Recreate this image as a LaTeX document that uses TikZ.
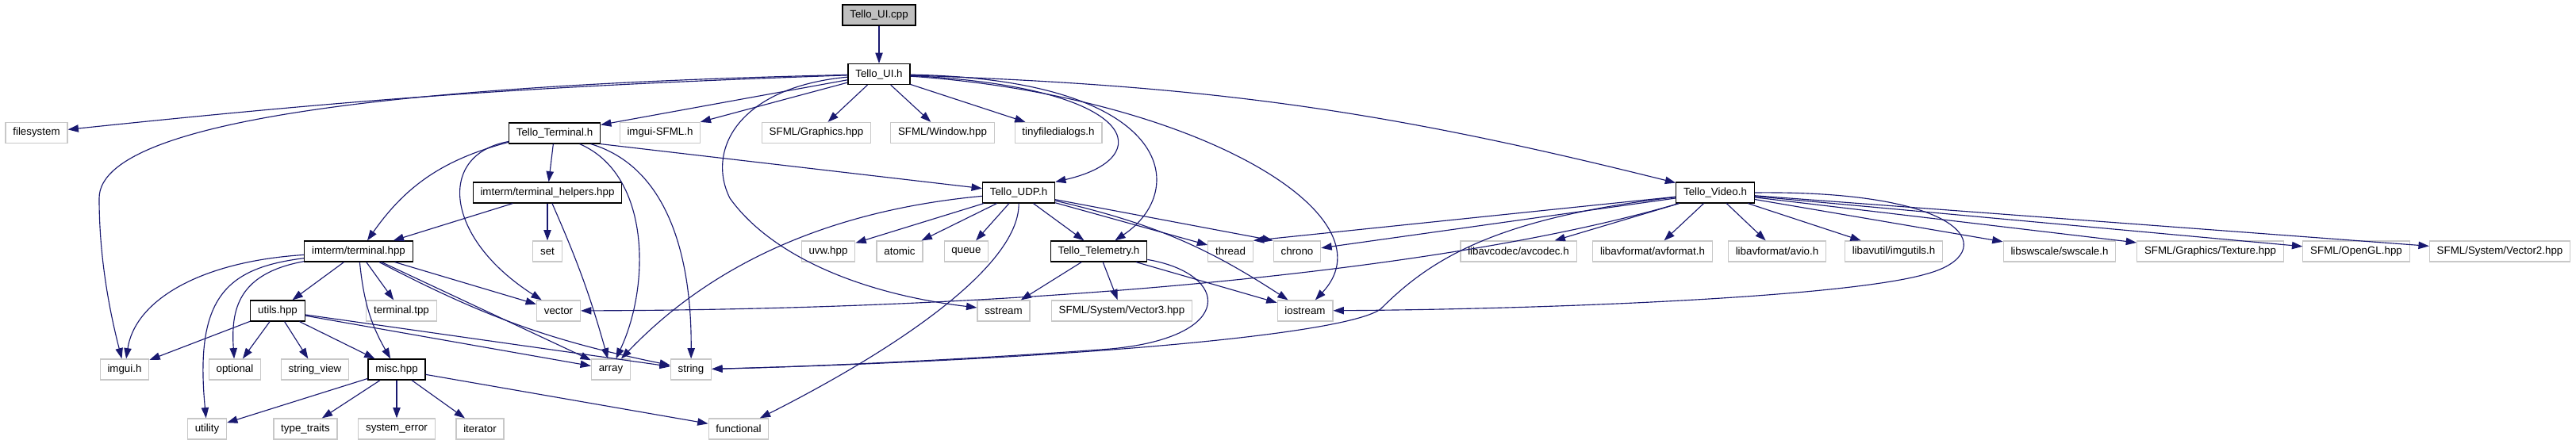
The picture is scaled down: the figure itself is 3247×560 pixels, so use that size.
\documentclass[tikz,border=0pt]{standalone}
\usepackage{fontspec}
\setmainfont{Liberation Sans}
\usepackage{tikz}
\usetikzlibrary{arrows.meta}
\definecolor{Midnight}{RGB}{25, 25, 112}
\definecolor{GreyFill}{RGB}{191, 191, 191}
\definecolor{GreyLine}{RGB}{200, 200, 200}

\begin{document}
\begin{tikzpicture}[
    x=0.75pt, y=-0.75pt,
    box/.style={rectangle, font=\fontsize{10}{12}\selectfont, inner xsep=7pt, inner ysep=2pt, minimum height=19.5pt},
    doc/.style={box, draw=black, line width=0.9pt, fill=white},
    ext/.style={box, draw=GreyLine, line width=0.9pt, fill=white},
    root/.style={box, draw=black, line width=0.9pt, fill=GreyFill},
    link/.style={draw=Midnight, line width=0.85pt, -{Triangle[length=10pt, width=7pt]}},
    every edge/.style={link}
]

\path[fill=white] (0,0) rectangle (3247,560);
\useasboundingbox (0,0) rectangle (3247,560);

% Files
\node[root] (cpp) at (1108,19) {Tello\_UI.cpp};
\node[doc] (uih) at (1108,93.5) {Tello\_UI.h};

\node[ext] (fs) at (46,167.5) {filesystem};
\node[doc] (term) at (699,168) {Tello\_Terminal.h};
\node[ext] (imsfml) at (832,167.5) {imgui-SFML.h};
\node[ext] (sfgfx) at (1029,167.5) {SFML/Graphics.hpp};
\node[ext] (sfwin) at (1188,167.5) {SFML/Window.hpp};
\node[ext] (tfd) at (1334,167.5) {tinyfiledialogs.h};

\node[doc] (helpers) at (690,243) {imterm/terminal\_helpers.hpp};
\node[doc] (udp) at (1284,243) {Tello\_UDP.h};
\node[doc] (video) at (2162,243) {Tello\_Video.h};

\node[doc] (tthpp) at (452,317) {imterm/terminal.hpp};
\node[ext] (set) at (690,317) {set};
\node[ext] (uvw) at (1044,317) {uvw.hpp};
\node[ext] (atomic) at (1134,317) {atomic};
\node[ext] (queue) at (1218,317) {queue};
\node[doc] (tele) at (1385,317) {Tello\_Telemetry.h};
\node[ext] (thread) at (1551,317) {thread};
\node[ext] (chrono) at (1635,317) {chrono};
\node[ext] (avcodec) at (1914,317) {libavcodec/avcodec.h};
\node[ext] (avformat) at (2083,317) {libavformat/avformat.h};
\node[ext] (avio) at (2240,317) {libavformat/avio.h};
\node[ext] (imgutils) at (2387,317) {libavutil/imgutils.h};
\node[ext] (swscale) at (2596,317) {libswscale/swscale.h};
\node[ext] (texture) at (2786,317) {SFML/Graphics/Texture.hpp};
\node[ext] (opengl) at (2970,317) {SFML/OpenGL.hpp};
\node[ext] (vecii) at (3151,317) {SFML/System/Vector2.hpp};

\node[doc] (utils) at (350,392) {utils.hpp};
\node[ext] (ttpp) at (506,392) {terminal.tpp};
\node[ext] (vector) at (704,392) {vector};
\node[ext] (sstream) at (1265,392) {sstream};
\node[ext] (veciii) at (1414,392) {SFML/System/Vector3.hpp};
\node[ext] (iostream) at (1645,392) {iostream};

\node[ext] (imguih) at (157,466) {imgui.h};
\node[ext] (optional) at (296,466) {optional};
\node[ext] (strview) at (397,466) {string\_view};
\node[doc] (misc) at (500,466) {misc.hpp};
\node[ext] (array) at (770,466) {array};
\node[ext] (string) at (871,466) {string};

\node[ext] (utility) at (261,541) {utility};
\node[ext] (traits) at (385,541) {type\_traits};
\node[ext] (syserr) at (500,541) {system\_error};
\node[ext] (iterator) at (605,541) {iterator};
\node[ext] (functional) at (931,541) {functional};

% From Tello_UI.cpp
\draw (cpp) edge (uih);

% From Tello_UI.h
\draw (uih) edge[bend right=2] (fs);
\draw[link] (uih) .. controls (600,105) and (125,140) .. (125,250) .. controls (125,330) and (140,400) .. (imguih);
\draw (uih) edge (term);
\draw (uih) edge (imsfml);
\draw (uih) edge (sfgfx);
\draw (uih) edge (sfwin);
\draw (uih) edge (tfd);
\draw[link] (uih) .. controls (1440,110) and (1460,200) .. (udp.north east);
\draw[link] (uih) .. controls (1480,100) and (1500,240) .. (tele);
\draw[link] (uih) .. controls (930,110) and (890,190) .. (920,250) .. controls (970,320) and (1080,370) .. (sstream);
\draw[link] (uih) .. controls (1500,120) and (1760,270) .. (iostream);
\draw (uih) edge[bend left=6] (video);

% From Tello_Terminal.h
\draw (term) edge[bend right=20] (tthpp);
\draw (term) edge (helpers);
\draw[link] (term) .. controls (550,195) and (560,300) .. (vector);
\draw[link] (term) .. controls (820,220) and (820,360) .. (array);
\draw[link] (term) .. controls (840,210) and (872,320) .. (string);
\draw (term.south east) edge (udp);

% From imterm/terminal_helpers.hpp
\draw (helpers) edge (tthpp);
\draw (helpers) edge (set);
\draw (helpers) edge[bend left=4] (array);

% From imterm/terminal.hpp
\draw[link] (tthpp) .. controls (250,330) and (170,380) .. (imguih);
\draw (tthpp) edge (utils);
\draw (tthpp) edge (ttpp);
\draw (tthpp) edge (vector);
\draw (tthpp) edge[bend right=8] (string);
\draw (tthpp) edge (array);
\draw (tthpp) edge[bend right=12] (misc);
\draw[link] (tthpp) .. controls (300,345) and (291,390) .. (optional);
\draw[link] (tthpp) .. controls (285,338) and (245,375) .. (utility);

% From utils.hpp
\draw (utils) edge (imguih);
\draw (utils) edge (optional);
\draw (utils) edge (strview);
\draw (utils) edge (misc);
\draw (utils) edge (array);
\draw (utils) edge (string);

% From misc.hpp
\draw (misc) edge (utility);
\draw (misc) edge (traits);
\draw (misc) edge (syserr);
\draw (misc) edge (iterator);
\draw (misc) edge (functional);

% From Tello_UDP.h
\draw (udp) edge (uvw);
\draw (udp) edge (atomic);
\draw (udp) edge (queue);
\draw (udp) edge (tele);
\draw (udp) edge (thread);
\draw (udp) edge (chrono.north west);
\draw (udp) edge[bend left=10] (iostream);
\draw[link] (udp) .. controls (1050,265) and (900,330) .. (array);
\draw[link] (udp) .. controls (1285,330) and (1150,430) .. (functional);

% From Tello_Telemetry.h
\draw (tele) edge (sstream);
\draw (tele) edge (veciii);
\draw (tele) edge (iostream);
\draw[link] (tele) .. controls (1550,345) and (1560,425) .. (1400,440) .. controls (1200,455) and (1000,463) .. (string);

% From Tello_Video.h
\draw (video) edge (thread.north east);
\draw (video) edge (chrono);
\draw[link] (video) .. controls (1850,335) and (1350,390) .. (vector);
\draw[link] (video) .. controls (1880,275) and (1800,330) .. (1740,390) .. controls (1690,425) and (1300,455) .. (string);
\draw[link] (video.east) .. controls (2490,240) and (2520,320) .. (2430,345) .. controls (2330,375) and (1950,390) .. (iostream);
\draw (video) edge (avcodec);
\draw (video) edge (avformat);
\draw (video) edge (avio);
\draw (video) edge (imgutils);
\draw (video) edge (swscale);
\draw (video) edge (texture);
\draw (video) edge (opengl);
\draw (video) edge (vecii);

\end{tikzpicture}
\end{document}
